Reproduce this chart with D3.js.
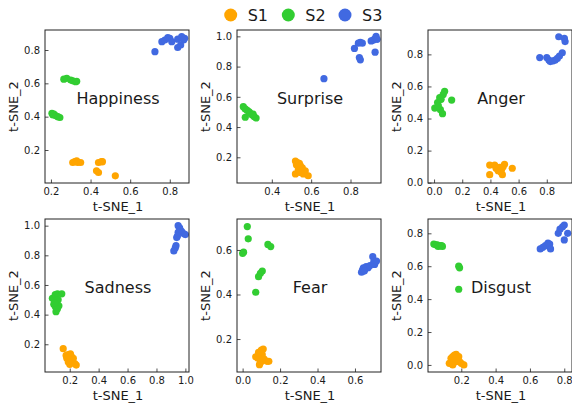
<!DOCTYPE html>
<html>
<head>
<meta charset="utf-8">
<script src="https://cdn.jsdelivr.net/npm/d3@7"></script>
<style>
  body { margin: 0; background: #fff; }
  text { font-family: "DejaVu Sans", sans-serif; fill: #1a1a1a; }
</style>
</head>
<body>
<div id="chart"></div>
<script>
const emotions = ["Happiness", "Surprise", "Anger", "Sadness", "Fear", "Disgust"];
const seriesNames = ["S1", "S2", "S3"];
const seriesColors = ["#FFA500", "#32CD32", "#4169E1"];

// points [t-SNE_1, t-SNE_2], one array per panel, in emotion order
const s1 = [
  [[0.31,0.125],[0.32,0.13],[0.33,0.135],[0.335,0.125],[0.35,0.125],[0.44,0.125],[0.455,0.13],[0.46,0.13],[0.43,0.075],[0.44,0.065],[0.525,0.045]],
  [[0.52,0.175],[0.53,0.165],[0.54,0.16],[0.525,0.15],[0.545,0.145],[0.555,0.13],[0.535,0.12],[0.57,0.11],[0.52,0.09],[0.545,0.1],[0.585,0.078],[0.56,0.09]],
  [[0.395,0.11],[0.43,0.11],[0.395,0.05],[0.44,0.09],[0.455,0.075],[0.465,0.095],[0.48,0.085],[0.5,0.115],[0.49,0.1],[0.485,0.05],[0.475,0.065],[0.555,0.09]],
  [[0.155,0.17],[0.175,0.125],[0.19,0.13],[0.205,0.135],[0.21,0.12],[0.225,0.105],[0.18,0.105],[0.195,0.095],[0.19,0.08],[0.215,0.08],[0.245,0.06],[0.235,0.07],[0.2,0.065]],
  [[0.07,0.12],[0.08,0.115],[0.09,0.135],[0.1,0.15],[0.11,0.155],[0.105,0.13],[0.095,0.11],[0.115,0.11],[0.1,0.1],[0.13,0.1],[0.14,0.1],[0.09,0.085],[0.095,0.095],[0.085,0.14]],
  [[0.13,0.01],[0.14,0.04],[0.15,0.05],[0.16,0.06],[0.17,0.065],[0.175,0.045],[0.18,0.03],[0.165,0.02],[0.19,0.02],[0.2,0.01],[0.215,0.0],[0.15,0.0],[0.185,0.05]]
];
const s2 = [
  [[0.265,0.625],[0.28,0.63],[0.30,0.62],[0.31,0.615],[0.325,0.61],[0.33,0.612],[0.205,0.42],[0.21,0.41],[0.215,0.415],[0.225,0.405],[0.235,0.4],[0.245,0.395]],
  [[0.255,0.535],[0.265,0.52],[0.275,0.51],[0.285,0.5],[0.265,0.465],[0.29,0.49],[0.30,0.48],[0.31,0.47],[0.32,0.46],[0.305,0.485]],
  [[0.075,0.57],[0.065,0.55],[0.04,0.53],[0.05,0.52],[0.025,0.5],[0.005,0.465],[0.045,0.455],[0.06,0.43],[0.125,0.515],[0.03,0.48]],
  [[0.08,0.51],[0.1,0.535],[0.115,0.54],[0.145,0.54],[0.11,0.49],[0.12,0.5],[0.09,0.47],[0.125,0.46],[0.1,0.455],[0.115,0.44],[0.105,0.42],[0.095,0.48]],
  [[0.025,0.705],[0.03,0.65],[0.005,0.59],[0.0,0.585],[0.135,0.625],[0.15,0.615],[0.105,0.505],[0.095,0.495],[0.085,0.48],[0.07,0.41]],
  [[0.04,0.735],[0.05,0.73],[0.06,0.73],[0.065,0.72],[0.075,0.725],[0.085,0.725],[0.09,0.72],[0.185,0.6],[0.19,0.59],[0.185,0.46]]
];
const s3 = [
  [[0.725,0.79],[0.76,0.85],[0.775,0.86],[0.79,0.875],[0.80,0.87],[0.81,0.85],[0.84,0.865],[0.86,0.88],[0.875,0.87],[0.87,0.86],[0.84,0.815],[0.855,0.83]],
  [[0.665,0.72],[0.82,0.92],[0.84,0.955],[0.85,0.96],[0.86,0.955],[0.845,0.86],[0.85,0.845],[0.905,0.97],[0.915,0.975],[0.925,0.985],[0.93,1.0],[0.935,0.98],[0.925,0.895]],
  [[0.75,0.78],[0.80,0.78],[0.815,0.765],[0.825,0.755],[0.845,0.76],[0.86,0.765],[0.875,0.775],[0.89,0.79],[0.91,0.81],[0.885,0.91],[0.925,0.9],[0.93,0.88]],
  [[0.95,1.0],[0.96,0.985],[0.965,0.97],[0.975,0.96],[0.99,0.945],[1.0,0.94],[0.95,0.955],[0.94,0.92],[0.945,0.93],[0.935,0.865],[0.93,0.85],[0.92,0.83]],
  [[0.635,0.5],[0.64,0.51],[0.645,0.52],[0.655,0.515],[0.66,0.525],[0.67,0.52],[0.68,0.53],[0.695,0.57],[0.7,0.545],[0.705,0.535],[0.715,0.55],[0.65,0.505]],
  [[0.66,0.705],[0.675,0.715],[0.69,0.725],[0.705,0.74],[0.715,0.735],[0.72,0.705],[0.765,0.8],[0.775,0.825],[0.79,0.84],[0.8,0.85],[0.82,0.8],[0.8,0.76]]
];

// axis limits and ticks per panel
const xLimits = [[0.17,0.897],[0.223,0.955],[-0.043,0.979],[0.029,1.025],[-0.030,0.739],[0.006,0.845]];
const yLimits = [[0.002,0.92],[0.03,1.042],[-0.002,0.952],[0.013,1.045],[0.052,0.739],[-0.043,0.887]];
const xTicks = [[0.2,0.4,0.6,0.8],[0.4,0.6,0.8],[0.0,0.2,0.4,0.6,0.8],[0.2,0.4,0.6,0.8,1.0],[0.0,0.2,0.4,0.6],[0.2,0.4,0.6,0.8]];
const yTicks = [[0.2,0.4,0.6,0.8],[0.2,0.4,0.6,0.8,1.0],[0.0,0.2,0.4,0.6,0.8],[0.2,0.4,0.6,0.8,1.0],[0.2,0.4,0.6],[0.0,0.2,0.4,0.6,0.8]];

const W = 572, H = 407;
const colLeft = [45, 237, 428];
const rowTop = [30, 219];
const pw = 144, ph = 153;

const svg = d3.select("#chart").append("svg")
    .attr("width", W)
    .attr("height", H);

const allSeries = [s1, s2, s3];

emotions.forEach((name, i) => {
    const left = colLeft[i % 3], top = rowTop[Math.floor(i / 3)];
    const g = svg.append("g").attr("transform", "translate(" + left + "," + top + ")");

    const x = d3.scaleLinear().domain(xLimits[i]).range([0, pw]);
    const y = d3.scaleLinear().domain(yLimits[i]).range([ph, 0]);

    // points, drawn series by series
    allSeries.forEach((s, k) => {
        g.append("g").selectAll("circle")
            .data(s[i])
            .enter()
            .append("circle")
            .attr("cx", d => x(d[0]))
            .attr("cy", d => y(d[1]))
            .attr("r", 3.6)
            .attr("fill", seriesColors[k]);
    });

    // axes, ticks pointing inward
    const xa = g.append("g")
        .attr("transform", "translate(0," + ph + ")")
        .call(d3.axisBottom(x).tickValues(xTicks[i]).tickFormat(d3.format(".1f"))
            .tickSizeInner(-3.5).tickSizeOuter(0).tickPadding(5));
    const ya = g.append("g")
        .call(d3.axisLeft(y).tickValues(yTicks[i]).tickFormat(d3.format(".1f"))
            .tickSizeInner(-3.5).tickSizeOuter(0).tickPadding(5));
    [xa, ya].forEach(a => {
        a.select(".domain").remove();
        a.selectAll("line").attr("stroke", "#222").attr("stroke-width", 0.8);
        a.selectAll("text").style("font-size", "10px").style("fill", "#1a1a1a")
            .style("font-family", "DejaVu Sans");
    });

    // frame
    g.append("rect")
        .attr("width", pw).attr("height", ph)
        .attr("fill", "none")
        .attr("stroke", "#222")
        .attr("stroke-width", 1);

    // emotion name
    g.append("text")
        .attr("x", pw / 2 + 1)
        .attr("y", ph * 0.445)
        .attr("text-anchor", "middle")
        .attr("dominant-baseline", "central")
        .style("font-size", "16px")
        .text(name);

    // axis titles
    g.append("text")
        .attr("x", pw / 2 + 1)
        .attr("y", ph + 23)
        .attr("text-anchor", "middle")
        .attr("dominant-baseline", "central")
        .style("font-size", "13px")
        .text("t-SNE_1");
    g.append("text")
        .attr("transform", "translate(-32," + (ph / 2) + ")rotate(-90)")
        .attr("text-anchor", "middle")
        .attr("dominant-baseline", "central")
        .style("font-size", "13px")
        .text("t-SNE_2");
});

// legend on top
const legendX = [230.7, 288.3, 345];
const legend = svg.append("g");
seriesNames.forEach((s, k) => {
    legend.append("circle")
        .attr("cx", legendX[k]).attr("cy", 15)
        .attr("r", 6.5)
        .attr("fill", seriesColors[k]);
    legend.append("text")
        .attr("x", legendX[k] + 17)
        .attr("y", 15)
        .attr("dominant-baseline", "central")
        .style("font-size", "16px")
        .text(s);
});
</script>
</body>
</html>
